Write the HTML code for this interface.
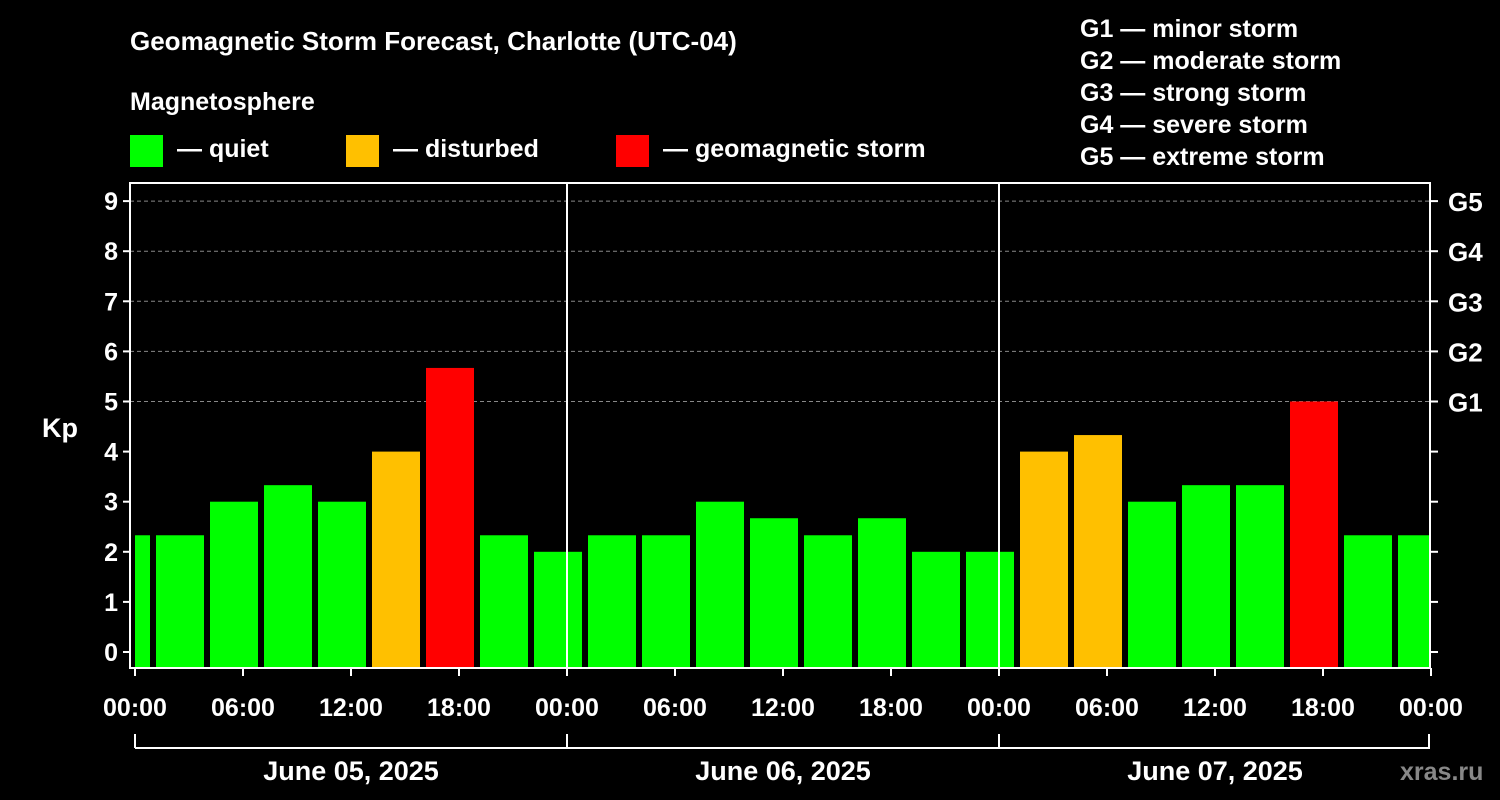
<!DOCTYPE html>
<html><head><meta charset="utf-8"><style>
html,body{margin:0;padding:0;background:#000;}
svg{display:block;font-family:"Liberation Sans",Arial,sans-serif;font-weight:bold;}
</style></head><body>
<svg id="chart" width="1500" height="800" viewBox="0 0 1500 800">
<rect width="1500" height="800" fill="#000"/>
<text x="130" y="50" fill="#fff" font-size="26">Geomagnetic Storm Forecast, Charlotte (UTC-04)</text>
<text x="130" y="110" fill="#fff" font-size="25">Magnetosphere</text>
<g><rect x="130" y="135" width="33" height="32" fill="#00ff00"/><text x="177" y="157" fill="#fff" font-size="25">— quiet</text></g>
<g><rect x="346" y="135" width="33" height="32" fill="#ffc000"/><text x="393" y="157" fill="#fff" font-size="25">— disturbed</text></g>
<g><rect x="616" y="135" width="33" height="32" fill="#ff0000"/><text x="663" y="157" fill="#fff" font-size="25">— geomagnetic storm</text></g>
<g fill="#fff" font-size="25">
<text x="1080" y="37">G1 — minor storm</text>
<text x="1080" y="69">G2 — moderate storm</text>
<text x="1080" y="101">G3 — strong storm</text>
<text x="1080" y="133">G4 — severe storm</text>
<text x="1080" y="165">G5 — extreme storm</text>
</g>
<text x="42" y="437" fill="#fff" font-size="27">Kp</text>
<text x="1400" y="780" fill="#888" font-size="25">xras.ru</text>
<g id="grid"></g><g id="bars"></g><g id="axes"></g>
</svg>
<script>
const kpValues=[2.33,2.33,3,3.33,3,4,5.67,2.33,2,2.33,2.33,3,2.67,2.33,2.67,2,2,4,4.33,3,3.33,3.33,5,2.33,2.33];
const yTicks=[0,1,2,3,4,5,6,7,8,9];
const gLabels=["G1","G2","G3","G4","G5"];
const xTickLabels=["00:00","06:00","12:00","18:00","00:00","06:00","12:00","18:00","00:00","06:00","12:00","18:00","00:00"];
const dayLabels=["June 05, 2025","June 06, 2025","June 07, 2025"];
const NS="http://www.w3.org/2000/svg";
const L=130,R=1430,T=183,B=668,X0=135,DAY=432;
const y=v=>652-v*50.1;
const xh=h=>X0+h*DAY/24;
function mk(tag,attrs,parent){const e=document.createElementNS(NS,tag);for(const k in attrs)e.setAttribute(k,attrs[k]);parent.appendChild(e);return e;}
const grid=document.getElementById('grid'),bars=document.getElementById('bars'),axes=document.getElementById('axes');
// clip
const defs=mk('defs',{},grid);const cp=mk('clipPath',{id:'pc'},defs);mk('rect',{x:X0,y:T,width:R-X0,height:B-T},cp);
bars.setAttribute('clip-path','url(#pc)');
for(let v=5;v<=9;v++){const l=mk('line',{x1:L,x2:R,y1:y(v),y2:y(v),stroke:'#888','stroke-dasharray':'4,3','stroke-width':1},grid);

}
kpValues.forEach((v,i)=>{const x0=xh(-2+3*i)+3,x1=xh(1+3*i)-3;
const c=v>=5?'#ff0000':(v>=4?'#ffc000':'#00ff00');
const r=mk('rect',{x:x0,y:y(v),width:x1-x0,height:B-y(v),fill:c},bars);

});
// frame
const f=mk('rect',{x:L,y:T,width:R-L,height:B-T,fill:'none',stroke:'#fff','stroke-width':2},axes);


[1,2].forEach(d=>{const l=mk('line',{x1:X0+d*DAY,x2:X0+d*DAY,y1:T,y2:B,stroke:'#fff','stroke-width':2},axes);

});
yTicks.forEach(v=>{mk('line',{x1:L-7,x2:L,y1:y(v),y2:y(v),stroke:'#fff','stroke-width':2},axes);
mk('line',{x1:R,x2:R+8,y1:y(v),y2:y(v),stroke:'#fff','stroke-width':2},axes);
const t=mk('text',{x:L-12,y:y(v)+9,fill:'#fff','font-size':25,'text-anchor':'end'},axes);t.textContent=v;

});
gLabels.forEach((g,i)=>{const t=mk('text',{x:1448,y:y(5+i)+10,fill:'#fff','font-size':26},axes);t.textContent=g;

});
xTickLabels.forEach((s,i)=>{const x=xh(6*i);mk('line',{x1:x,x2:x,y1:B,y2:B+8,stroke:'#fff','stroke-width':2},axes);
const t=mk('text',{x:x,y:716,fill:'#fff','font-size':25,'text-anchor':'middle'},axes);t.textContent=s;

});
mk('line',{x1:X0,x2:R,y1:748,y2:748,stroke:'#fff','stroke-width':2},axes);
for(let d=0;d<=3;d++){const x=d==3?R-1:X0+d*DAY;mk('line',{x1:x,x2:x,y1:734,y2:748,stroke:'#fff','stroke-width':2},axes);}
dayLabels.forEach((s,i)=>{const t=mk('text',{x:X0+DAY*(i+0.5),y:780,fill:'#fff','font-size':27,'text-anchor':'middle'},axes);t.textContent=s;

});
</script>
</body></html>
